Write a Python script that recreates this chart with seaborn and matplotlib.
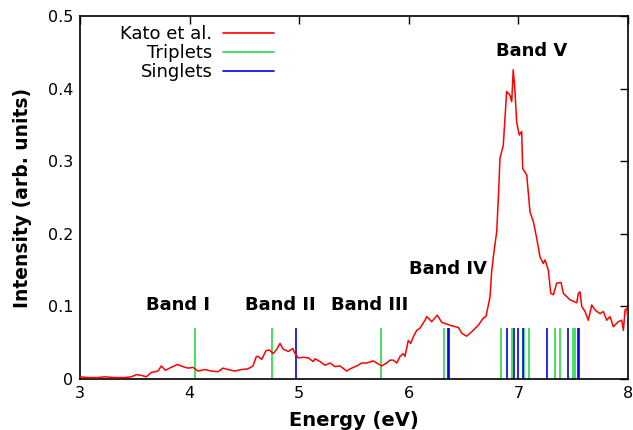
import matplotlib
matplotlib.use("Agg")
import matplotlib.pyplot as plt
import seaborn as sns
import pandas as pd
from matplotlib.lines import Line2D

energy = [3.00, 3.073, 3.164, 3.225, 3.317, 3.408, 3.468, 3.514, 3.559, 3.605, 3.651, 3.712, 3.742, 3.778,
          3.818, 3.888, 3.940, 3.985, 4.031, 4.077, 4.138, 4.198, 4.259, 4.305, 4.350, 4.412, 4.472, 4.533,
          4.578, 4.609, 4.627, 4.658, 4.697, 4.727, 4.764, 4.795, 4.825, 4.855, 4.901, 4.941, 4.962, 4.992,
          5.037, 5.083, 5.129, 5.144, 5.190, 5.235, 5.281, 5.327, 5.372, 5.433, 5.464, 5.525, 5.570, 5.616,
          5.676, 5.707, 5.753, 5.798, 5.828, 5.859, 5.890, 5.920, 5.950, 5.965, 5.995, 6.017, 6.041, 6.072,
          6.102, 6.148, 6.163, 6.209, 6.260, 6.300, 6.376, 6.452, 6.483, 6.528, 6.574, 6.634, 6.680, 6.704,
          6.741, 6.756, 6.771, 6.802, 6.817, 6.832, 6.862, 6.893, 6.923, 6.939, 6.953, 6.969, 6.984, 7.008,
          7.030, 7.039, 7.076, 7.106, 7.136, 7.167, 7.197, 7.227, 7.243, 7.273, 7.295, 7.319, 7.349, 7.389,
          7.410, 7.471, 7.532, 7.547, 7.562, 7.578, 7.608, 7.638, 7.669, 7.699, 7.745, 7.775, 7.806, 7.836,
          7.866, 7.912, 7.943, 7.958, 7.973, 7.988, 8.000]
intensity = [0.003, 0.002, 0.002, 0.003, 0.002, 0.002, 0.003, 0.006, 0.005, 0.003, 0.009, 0.011, 0.018, 0.012,
             0.015, 0.020, 0.017, 0.015, 0.016, 0.011, 0.013, 0.011, 0.010, 0.015, 0.013, 0.011, 0.013, 0.014,
             0.018, 0.031, 0.031, 0.027, 0.039, 0.040, 0.035, 0.041, 0.049, 0.041, 0.038, 0.042, 0.035, 0.029,
             0.030, 0.029, 0.024, 0.028, 0.024, 0.019, 0.022, 0.017, 0.018, 0.011, 0.014, 0.018, 0.022, 0.022,
             0.025, 0.022, 0.018, 0.022, 0.026, 0.026, 0.022, 0.031, 0.035, 0.031, 0.053, 0.049, 0.058, 0.067,
             0.070, 0.081, 0.086, 0.079, 0.088, 0.078, 0.074, 0.071, 0.063, 0.059, 0.065, 0.074, 0.084, 0.086,
             0.113, 0.148, 0.168, 0.203, 0.249, 0.304, 0.322, 0.396, 0.391, 0.382, 0.426, 0.396, 0.354, 0.336,
             0.341, 0.290, 0.281, 0.230, 0.217, 0.194, 0.168, 0.159, 0.164, 0.150, 0.118, 0.116, 0.132, 0.133,
             0.118, 0.109, 0.105, 0.118, 0.120, 0.100, 0.093, 0.081, 0.102, 0.095, 0.090, 0.093, 0.081, 0.086,
             0.072, 0.079, 0.081, 0.067, 0.095, 0.097, 0.084]

triplets = [4.05, 4.75, 5.75, 6.32, 6.84, 6.945, 7.05, 7.10, 7.33, 7.38, 7.50, 7.52]
singlets = [4.97, 6.355, 6.37, 6.90, 6.956, 7.00, 7.04, 7.26, 7.455, 7.54, 7.556]
stick_height = 0.07

band_labels = ["Band I", "Band II", "Band III", "Band IV", "Band V"]
band_x = [3.894, 4.825, 5.646, 6.358, 7.124]
band_y = [0.102, 0.102, 0.102, 0.152, 0.452]

x_ticks = [3, 4, 5, 6, 7, 8]
y_ticks = [0, 0.1, 0.2, 0.3, 0.4, 0.5]
y_tick_labels = ["0", "0.1", "0.2", "0.3", "0.4", "0.5"]

RED = "#ff0000"
GREEN = "#22dd44"
BLUE = "#0000ee"

sns.set_theme(style="white")
plt.rcParams["font.family"] = ["DejaVu Sans"]
plt.rcParams["text.color"] = "black"
plt.rcParams["axes.labelcolor"] = "black"
plt.rcParams["xtick.color"] = "black"
plt.rcParams["ytick.color"] = "black"

fig = plt.figure(figsize=(6.33, 4.30), dpi=100)
ax = fig.add_axes([80 / 633, 51 / 430, 548 / 633, 363 / 430])

df = pd.DataFrame({"Energy": energy, "Intensity": intensity})
sns.lineplot(data=df, x="Energy", y="Intensity", sort=False, color=RED, linewidth=1.1, ax=ax, zorder=3)

ax.vlines(triplets, 0, stick_height, color=GREEN, linewidth=1.2, zorder=2)
ax.vlines(singlets, 0, stick_height, color=BLUE, linewidth=1.2, zorder=2)

for lab, bx, by in zip(band_labels, band_x, band_y):
    ax.text(bx, by, lab, ha="center", va="center", fontsize=13, fontweight="bold", color="black")

ax.set_xlim(3, 8)
ax.set_ylim(0, 0.5)
ax.set_xticks(x_ticks)
ax.set_xticklabels([str(t) for t in x_ticks])
ax.set_yticks(y_ticks)
ax.set_yticklabels(y_tick_labels)
ax.tick_params(direction="in", length=6, width=1, top=True, right=True, labelsize=11.5,
               colors="black", pad=5)
for s in ax.spines.values():
    s.set_color("black")
    s.set_linewidth(1.2)
ax.set_xlabel("Energy (eV)", fontsize=14, fontweight="bold", labelpad=7)
ax.set_ylabel("Intensity (arb. units)", fontsize=13.5, fontweight="bold", labelpad=11)

handles = [Line2D([], [], color=RED, lw=1.2), Line2D([], [], color=GREEN, lw=1.2),
           Line2D([], [], color=BLUE, lw=1.2)]
labels = ["Kato et al.", "Triplets", "Singlets"]
leg = ax.legend(handles, labels, loc="upper right", bbox_to_anchor=(0.36, 0.985), frameon=False,
                markerfirst=False, fontsize=13, handlelength=2.8, handletextpad=0.6,
                labelspacing=0.05, borderaxespad=0, borderpad=0.2)
for t in leg.get_texts():
    t.set_color("black")

fig.savefig("out.png", dpi=100, facecolor="white")
